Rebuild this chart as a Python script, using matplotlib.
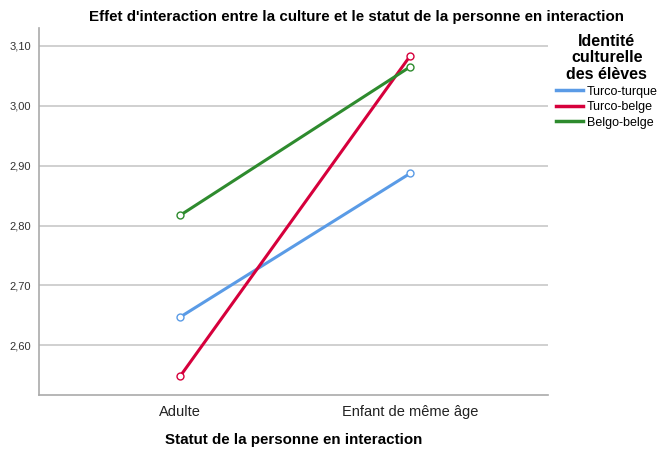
import matplotlib
matplotlib.use("Agg")
import matplotlib.pyplot as plt
from matplotlib.ticker import FuncFormatter

plt.rcParams["font.family"] = ["Liberation Sans", "DejaVu Sans"]

categories = ["Adulte", "Enfant de même âge"]
series_names = ["Turco-turque", "Turco-belge", "Belgo-belge"]
turco_turque = [2.647, 2.887]
turco_belge = [2.548, 3.083]
belgo_belge = [2.817, 3.065]
yticks = [2.60, 2.70, 2.80, 2.90, 3.00, 3.10]
colors = ["#5a9be6", "#d6003c", "#2e8b2e"]

fig = plt.figure(figsize=(6.57, 4.49), dpi=100)
ax = fig.add_axes([0.0594, 0.1203, 0.7746, 0.8173])

xs = list(range(len(categories)))
for name, vals, c in zip(series_names, [turco_turque, turco_belge, belgo_belge], colors):
    ax.plot(xs, vals, color=c, lw=2.2, marker="o", markersize=5,
            markerfacecolor="white", markeredgecolor=c, markeredgewidth=1.0, label=name)

ax.set_xlim(-0.613, 1.6)
ax.set_ylim(2.517, 3.13)
ax.set_yticks(yticks)
ax.yaxis.set_major_formatter(FuncFormatter(lambda v, p: f"{v:.2f}".replace(".", ",")))
ax.set_xticks(xs)
ax.set_xticklabels(categories, fontsize=10.5)
ax.tick_params(axis="y", labelsize=8, length=0, pad=6, colors="#333333")
ax.tick_params(axis="x", length=0, pad=7, colors="#222222")
ax.grid(axis="y", color="#c8c8c8", lw=1.2)
ax.set_axisbelow(True)
for s in ["top", "right"]:
    ax.spines[s].set_visible(False)
for s in ["left", "bottom"]:
    ax.spines[s].set_color("#aaaaaa")
    ax.spines[s].set_linewidth(1.2)

fig.text(0.543, 0.962, "Effet d'interaction entre la culture et le statut de la personne en interaction",
         ha="center", va="center", fontsize=10.9, fontweight="bold")
ax.set_xlabel("Statut de la personne en interaction", fontsize=10.9, fontweight="bold", labelpad=10)

leg = ax.legend(title="Identité\nculturelle\ndes élèves", loc="upper left",
                bbox_to_anchor=(0.993, 1.015), frameon=False, fontsize=9,
                handlelength=2.2, handletextpad=0.3, labelspacing=0.28, borderaxespad=0.5)
leg.get_title().set_fontweight("bold")
leg.get_title().set_fontsize(11.5)
leg.get_title().set_multialignment("center")
leg.get_title().set_linespacing(1.12)
leg._legend_box.align = "center"
leg._legend_box.sep = 3
for line in leg.get_lines():
    line.set_marker("")
    line.set_linewidth(2.5)

fig.savefig("out.png", dpi=100)
